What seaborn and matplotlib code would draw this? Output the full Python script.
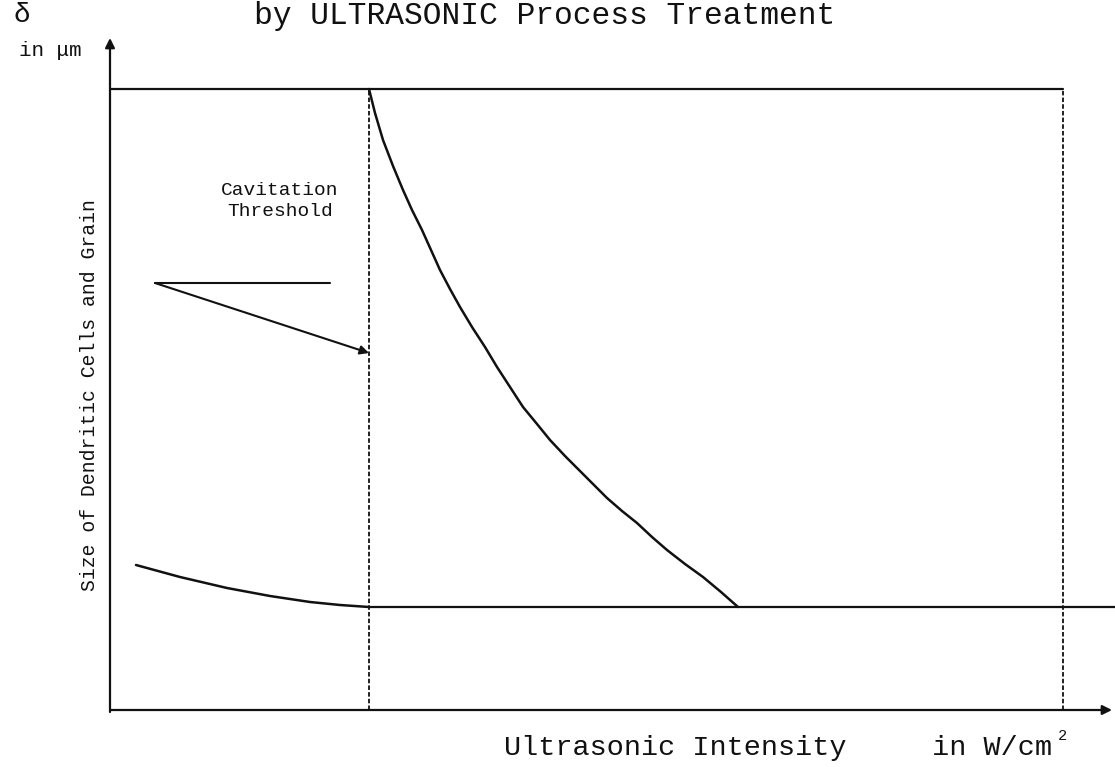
import numpy as np
import pandas as pd
import matplotlib
matplotlib.use("Agg")
import matplotlib.pyplot as plt
import seaborn as sns

# schematic values (arbitrary units)
threshold_x = 2.59      # cavitation threshold intensity
saturation_x = 9.53     # right dashed limit
size_max = 6.21         # grain size before treatment
size_min = 1.03         # saturated grain size

# grain size drop above the threshold
drop_x = [2.59, 2.65, 2.73, 2.83, 2.93, 3.02, 3.12, 3.21, 3.30, 3.40, 3.50, 3.62, 3.75, 3.87,
          4.00, 4.13, 4.27, 4.40, 4.55, 4.70, 4.84, 4.97, 5.12, 5.27, 5.42, 5.57, 5.75, 5.93, 6.11, 6.28]
drop_y = [6.21, 5.97, 5.70, 5.44, 5.20, 5.00, 4.80, 4.60, 4.40, 4.21, 4.03, 3.83, 3.63, 3.43,
          3.23, 3.03, 2.86, 2.70, 2.54, 2.39, 2.25, 2.12, 1.99, 1.87, 1.73, 1.60, 1.46, 1.33, 1.18, 1.03]

# slight decrease below the threshold
low_x = [0.26, 0.70, 1.17, 1.60, 2.00, 2.30, 2.59]
low_y = [1.45, 1.33, 1.22, 1.14, 1.08, 1.05, 1.03]

x_end = 10.02
y_end = 6.72

drop = pd.DataFrame({"intensity": drop_x, "size": drop_y})
low = pd.DataFrame({"intensity": low_x, "size": low_y})

sns.set_theme(style="white")
plt.rcParams["font.family"] = ["Liberation Mono", "DejaVu Sans Mono"]
plt.rcParams["lines.solid_joinstyle"] = "round"

fig = plt.figure(figsize=(11.15, 7.67), dpi=100)
ax = fig.add_axes([110 / 1115, 57 / 767, 1002 / 1115, 672 / 767])

ink = "#111111"
sns.lineplot(data=drop, x="intensity", y="size", ax=ax, color=ink, lw=1.8, sort=False)
sns.lineplot(data=low, x="intensity", y="size", ax=ax, color=ink, lw=1.8, sort=False)

# horizontal levels
ax.plot([0, saturation_x], [size_max, size_max], color=ink, lw=1.6)
ax.plot([threshold_x, x_end + 0.03], [size_min, size_min], color=ink, lw=1.6, clip_on=False)

# dashed verticals
dash = (0, (2.5, 1.2))
ax.plot([threshold_x, threshold_x], [0, size_max], color=ink, lw=1.3, ls=dash)
ax.plot([saturation_x, saturation_x], [0, size_max], color=ink, lw=1.3, ls=dash)

# axes as arrows
ax.set_xlim(0, x_end)
ax.set_ylim(0, y_end)
for s in ax.spines.values():
    s.set_visible(False)
ax.set_xticks([])
ax.set_yticks([])
arrow = dict(arrowstyle="-|>", lw=1.6, color=ink, shrinkA=0, shrinkB=0, mutation_scale=14)
ax.annotate("", xy=(x_end, 0), xytext=(0, 0), arrowprops=arrow, annotation_clip=False)
ax.annotate("", xy=(0, y_end), xytext=(0, -0.02), arrowprops=arrow, annotation_clip=False)

# cavitation threshold callout
ax.plot([0.45, 2.20], [4.27, 4.27], color=ink, lw=1.5)
ax.annotate("", xy=(threshold_x, 3.57), xytext=(0.45, 4.27),
            arrowprops=dict(arrowstyle="-|>", lw=1.5, color=ink, shrinkA=0, shrinkB=0,
                            mutation_scale=13))
ax.text(1.70, 5.09, "Cavitation\nThreshold", ha="center", va="center",
        fontsize=14, color=ink, linespacing=1.3)

# labels
ax.set_xlabel("Ultrasonic Intensity     in W/cm", fontsize=20.5, color=ink, ha="left")
ax.xaxis.set_label_coords((504 - 110) / 1002, -(748 - 710) / 672)
ax.xaxis.label.set_va("center")
ax.text((1062 - 110) / 100, (710 - 736) / 100, "2", fontsize=11, color=ink,
        ha="center", va="center", clip_on=False)
ax.set_ylabel("Size of Dendritic Cells and Grain", fontsize=14.2, color=ink, va="center")
ax.yaxis.set_label_coords(-20 / 1002, (710 - 395) / 672)

fig.text(545 / 1115, 1 - 16 / 767, "by ULTRASONIC Process Treatment",
         ha="center", va="center", fontsize=22.5, color=ink)
fig.text(22 / 1115, 1 - 15 / 767, "\u03b4", ha="center", va="center", fontsize=20, color=ink)
fig.text(50 / 1115, 1 - 50 / 767, "in \u03bcm", ha="center", va="center", fontsize=15, color=ink)

fig.savefig("out.png", dpi=100)
